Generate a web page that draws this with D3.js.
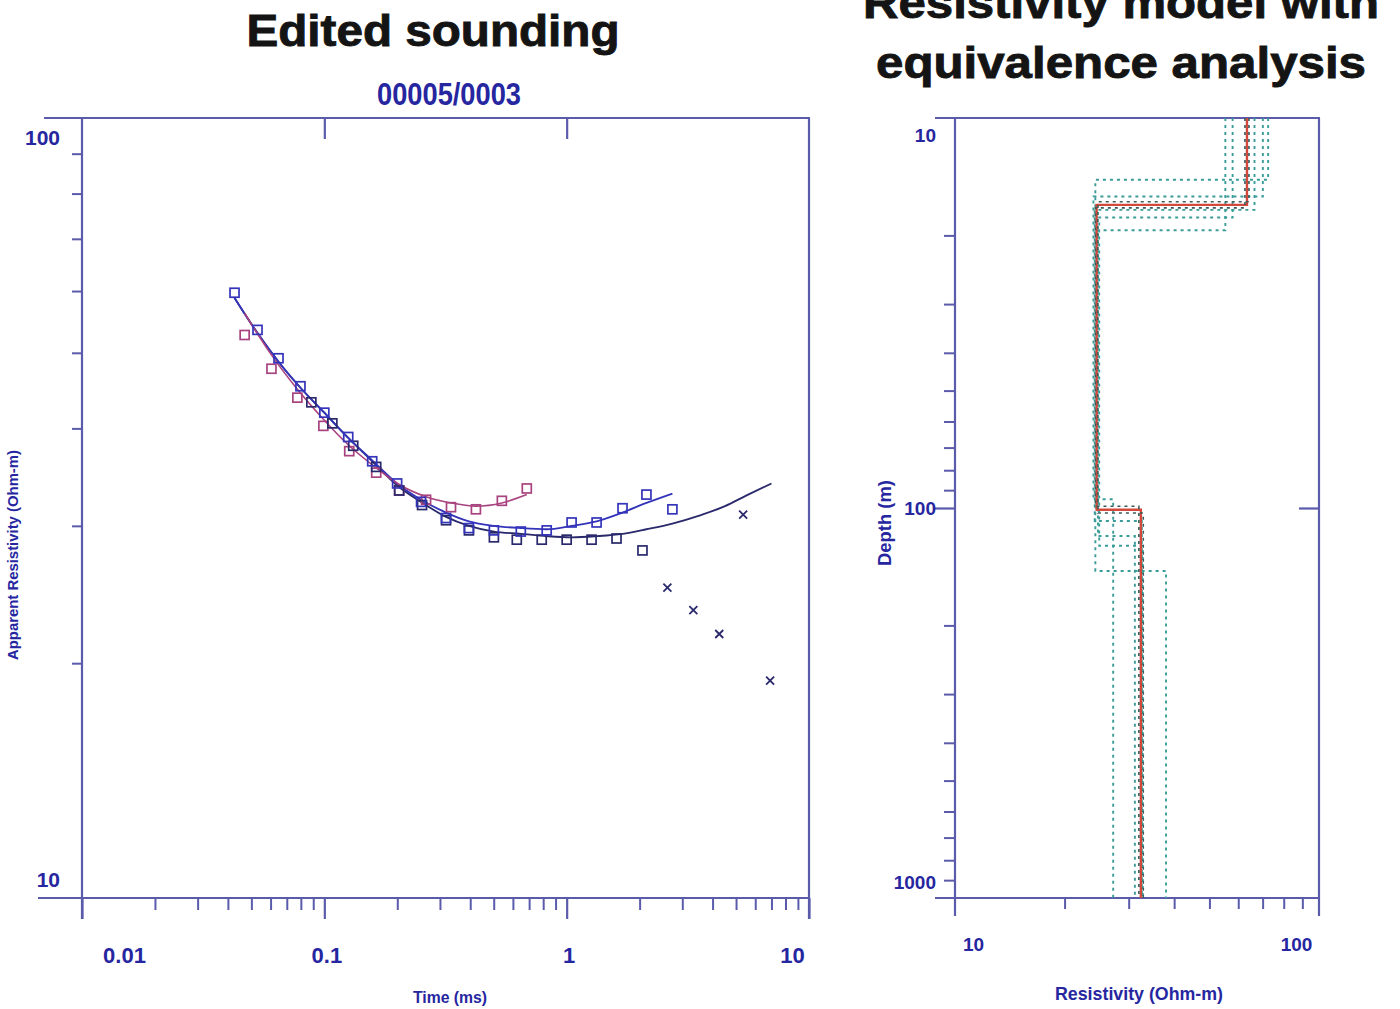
<!DOCTYPE html>
<html>
<head>
<meta charset="utf-8">
<script src="https://cdn.jsdelivr.net/npm/d3@7"></script>
<style>
  html, body { margin: 0; padding: 0; background: #ffffff; }
  svg { display: block; }
  .title { font-family: "Liberation Sans", Arial, sans-serif; font-weight: bold; fill: #141414; stroke: #141414; stroke-width: 0.9px; }
  .lbl { font-family: "Liberation Sans Narrow", "Liberation Sans", Arial, sans-serif; font-weight: bold; fill: #2626a0; }
</style>
</head>
<body>
<svg id="chart" width="1400" height="1009"></svg>
<script>
// ---- Edited sounding: apparent resistivity vs time ----
const magentaTime = [0.0469, 0.0605, 0.0774, 0.0991, 0.1267, 0.1637, 0.2036, 0.2629, 0.3332, 0.4222, 0.5402, 0.6846];
const magentaRho  = [52.7, 47.7, 43.8, 40.3, 37.4, 35.1, 33.3, 32.4, 31.7, 31.5, 32.3, 33.5];
const magentaFitRho = [56.2, 49.7, 44.9, 41.1, 38.0, 35.6, 33.9, 32.7, 32.1, 31.8, 32.1, 32.9];

const blueTime = [0.0426, 0.0530, 0.0647, 0.0797, 0.1, 0.1255, 0.1576, 0.1997, 0.2507, 0.3178, 0.3951, 0.5008, 0.6467, 0.8272, 1.048, 1.329, 1.700, 2.134, 2.731];
const blueRho  = [59.7, 53.5, 49.2, 45.3, 41.9, 39.0, 36.3, 34.0, 32.2, 30.7, 29.8, 29.6, 29.5, 29.6, 30.3, 30.3, 31.6, 32.9, 31.5];
const blueFitRho = [58.8, 53.0, 48.7, 45.1, 41.9, 38.9, 36.4, 34.0, 32.4, 31.2, 30.4, 30.0, 29.8, 29.7, 30.0, 30.4, 31.2, 32.1, 33.0];

const navyTime = [0.0884, 0.1079, 0.1316, 0.1637, 0.2036, 0.2531, 0.3178, 0.3951, 0.5008, 0.6226, 0.789, 1.0, 1.267, 1.606, 2.055];
const navyRho  = [43.2, 40.6, 38.0, 35.7, 33.3, 31.9, 30.5, 29.6, 29.0, 28.8, 28.8, 28.8, 28.8, 28.9, 27.9];
const rejectedTime = [2.604, 3.332, 4.262, 5.35, 6.91];
const rejectedRho  = [25.0, 23.4, 21.8, 31.0, 19.0];
const navyFitTime = [0.0426, 0.0530, 0.0647, 0.0797, 0.1, 0.1255, 0.1576, 0.1997, 0.2507, 0.3178, 0.3951, 0.5008, 0.6467, 0.8272, 1.048, 1.329, 1.700, 2.134, 2.731, 3.5, 4.5, 5.5, 7.0];
const navyFitRho  = [58.8, 53.0, 48.7, 45.1, 41.9, 38.9, 36.3, 33.8, 32.2, 30.8, 30.0, 29.5, 29.3, 29.1, 29.0, 29.1, 29.3, 29.7, 30.2, 30.9, 31.8, 32.8, 34.0];

const timeMajor = [0.01, 0.1, 1, 10];
const timeLabels = ["0.01", "0.1", "1", "10"];
const rhoMajor = [10, 100];
const rhoLabels = ["10", "100"];

// ---- Resistivity model with equivalence analysis ----
// each model: three layer resistivities and two interface depths
const bestRho = [63.4, 24.5, 32.4];
const bestDepth = [16.7, 101];
const equivRho = [
  [72.5, 24.3, 38.0],
  [70.1, 24.0, 27.2],
  [55.3, 24.7, 31.2],
  [57.9, 24.9, 32.8],
  [66.5, 24.2, 32.6]
];
const equivDepth = [
  [14.4, 145],
  [15.9, 95],
  [19.4, 118],
  [18.0, 125],
  [17.2, 108]
];
const nearRho = [
  [64.2, 24.7, 32.9],
  [62.6, 24.3, 32.0]
];
const nearDepth = [
  [16.4, 103],
  [17.0, 99]
];
const resMajor = [10, 100];
const resLabels = ["10", "100"];
const depthMajor = [10, 100, 1000];
const depthLabels = ["10", "100", "1000"];

const AXIS = "#5b5bab";
const MAGENTA = "#a8437f";
const BLUE = "#3434bb";
const NAVY = "#29296c";
const RED = "#d2483a";
const TEAL = "#3a9c98";
const TEAL_DARK = "#3a5a5a";

const svg = d3.select("#chart");

function logMinors(lo, hi) {
  const out = [];
  for (let p = lo; p < hi; p *= 10) for (let k = 2; k <= 9; k++) out.push(p * k);
  return out;
}

// ================= left panel =================
const xL = d3.scaleLog().domain([0.01, 10]).range([82, 809]);
const yL = d3.scaleLog().domain([10, 100]).range([898, 118]);

const gL = svg.append("g");

// frame lines
const frame = (g, x1, y1, x2, y2) => g.append("line")
  .attr("x1", x1).attr("y1", y1).attr("x2", x2).attr("y2", y2)
  .attr("stroke", AXIS).attr("stroke-width", 2.2);
frame(gL, 44, yL(100), xL(10) + 1, yL(100));
frame(gL, 38, yL(10), xL(10) + 1, yL(10));
frame(gL, xL(0.01), yL(100), xL(0.01), yL(10) + 21);
frame(gL, xL(10), yL(100), xL(10), yL(10) + 21);

function styleAxis(g, w) {
  g.select(".domain").remove();
  g.selectAll(".tick line").attr("stroke", AXIS).attr("stroke-width", w);
}

// bottom minor ticks
gL.append("g").attr("transform", `translate(0,${yL(10)})`)
  .call(d3.axisBottom(xL).tickValues(logMinors(0.01, 10)).tickSize(12).tickFormat(""))
  .call(g => styleAxis(g, 2));
// bottom major ticks + labels
const bx = gL.append("g").attr("transform", `translate(0,${yL(10)})`)
  .call(d3.axisBottom(xL).tickValues(timeMajor).tickSize(21).tickPadding(28)
    .tickFormat((d, i) => timeLabels[i]))
  .call(g => styleAxis(g, 2.2));
bx.selectAll(".tick text").attr("class", "lbl").attr("font-size", 22)
  .attr("dx", (d, i) => i === 0 ? 42 : (i === timeMajor.length - 1 ? -17 : 2));
// top inward major ticks
gL.append("g").attr("transform", `translate(0,${yL(100)})`)
  .call(d3.axisBottom(xL).tickValues([0.1, 1]).tickSize(21).tickFormat(""))
  .call(g => styleAxis(g, 2.2));
// left minor ticks
gL.append("g").attr("transform", `translate(${xL(0.01)},0)`)
  .call(d3.axisLeft(yL).tickValues(logMinors(10, 100)).tickSize(10).tickFormat(""))
  .call(g => styleAxis(g, 2));
// left labels (end labels nudged inside the frame)
const ly = gL.append("g").attr("transform", `translate(${xL(0.01)},0)`)
  .call(d3.axisLeft(yL).tickValues(rhoMajor).tickSize(0).tickPadding(22)
    .tickFormat((d, i) => rhoLabels[i]))
  .call(g => g.select(".domain").remove());
ly.selectAll(".tick text").attr("class", "lbl").attr("font-size", 21)
  .attr("dy", d => d === 100 ? "1.25em" : "-0.55em");

// fitted curves
const lineL = d3.line().x(d => xL(d[0])).y(d => yL(d[1])).curve(d3.curveMonotoneX);
gL.append("path").datum(navyFitTime.map((t, i) => [t, navyFitRho[i]]))
  .attr("d", lineL).attr("fill", "none").attr("stroke", NAVY).attr("stroke-width", 1.8);
gL.append("path").datum(blueTime.map((t, i) => [t, blueFitRho[i]]))
  .attr("d", lineL).attr("fill", "none").attr("stroke", BLUE).attr("stroke-width", 1.8);
gL.append("path").datum(magentaTime.map((t, i) => [t, magentaFitRho[i]]))
  .attr("d", lineL).attr("fill", "none").attr("stroke", MAGENTA).attr("stroke-width", 1.6);

// measured points
function squares(times, rhos, color) {
  gL.append("g").selectAll("rect").data(times.map((t, i) => [t, rhos[i]])).join("rect")
    .attr("x", d => xL(d[0]) - 4.5).attr("y", d => yL(d[1]) - 4.5)
    .attr("width", 9).attr("height", 9)
    .attr("fill", "none").attr("stroke", color).attr("stroke-width", 1.7);
}
squares(magentaTime, magentaRho, MAGENTA);
squares(navyTime, navyRho, NAVY);
squares(blueTime, blueRho, BLUE);

gL.append("g").selectAll("path").data(rejectedTime.map((t, i) => [t, rejectedRho[i]])).join("path")
  .attr("d", d => { const x = xL(d[0]), y = yL(d[1]), s = 4;
    return `M${x - s},${y - s}L${x + s},${y + s}M${x - s},${y + s}L${x + s},${y - s}`; })
  .attr("stroke", NAVY).attr("stroke-width", 1.8);

// titles
svg.append("text").attr("class", "title").attr("x", 433).attr("y", 46)
  .attr("text-anchor", "middle").attr("font-size", 45)
  .attr("textLength", 373).attr("lengthAdjust", "spacingAndGlyphs").text("Edited sounding");
svg.append("text").attr("class", "lbl").attr("x", 449).attr("y", 105)
  .attr("text-anchor", "middle").attr("font-size", 31).attr("fill", "#2020c0")
  .attr("textLength", 144).attr("lengthAdjust", "spacingAndGlyphs").text("00005/0003");
svg.append("text").attr("class", "lbl").attr("x", 450).attr("y", 1003)
  .attr("text-anchor", "middle").attr("font-size", 16)
  .attr("textLength", 74).attr("lengthAdjust", "spacingAndGlyphs").text("Time (ms)");
svg.append("text").attr("class", "lbl")
  .attr("transform", "translate(18,555) rotate(-90)")
  .attr("text-anchor", "middle").attr("font-size", 15)
  .attr("textLength", 210).attr("lengthAdjust", "spacingAndGlyphs").text("Apparent Resistivity (Ohm-m)");

// ================= right panel =================
const xR = d3.scaleLog().domain([10, 100]).range([955, 1319]);
const yR = d3.scaleLog().domain([10, 1000]).range([118, 898]);
const gR = svg.append("g");

frame(gR, 935, yR(10), xR(100) + 1, yR(10));
frame(gR, 935, yR(1000), xR(100) + 1, yR(1000));
frame(gR, xR(10), yR(10), xR(10), yR(1000) + 18);
frame(gR, xR(100), yR(10), xR(100), yR(1000) + 18);

gR.append("g").attr("transform", `translate(0,${yR(1000)})`)
  .call(d3.axisBottom(xR).tickValues(logMinors(10, 100)).tickSize(11).tickFormat(""))
  .call(g => styleAxis(g, 2));
const rbx = gR.append("g").attr("transform", `translate(0,${yR(1000)})`)
  .call(d3.axisBottom(xR).tickValues(resMajor).tickSize(0).tickPadding(40)
    .tickFormat((d, i) => resLabels[i]))
  .call(g => g.select(".domain").remove());
rbx.selectAll(".tick text").attr("class", "lbl").attr("font-size", 19)
  .attr("dx", (d, i) => i === 0 ? 18 : -23);

gR.append("g").attr("transform", `translate(${xR(10)},0)`)
  .call(d3.axisLeft(yR).tickValues(logMinors(10, 1000)).tickSize(11).tickFormat(""))
  .call(g => styleAxis(g, 2));
gR.append("g").attr("transform", `translate(${xR(10)},0)`)
  .call(d3.axisLeft(yR).tickValues([100]).tickSize(20).tickFormat(""))
  .call(g => styleAxis(g, 2.2));
gR.append("g").attr("transform", `translate(${xR(100)},0)`)
  .call(d3.axisRight(yR).tickValues([100]).tickSize(-20).tickFormat(""))
  .call(g => styleAxis(g, 2.2));
const rly = gR.append("g").attr("transform", `translate(${xR(10)},0)`)
  .call(d3.axisLeft(yR).tickValues(depthMajor).tickSize(0).tickPadding(19)
    .tickFormat((d, i) => depthLabels[i]))
  .call(g => g.select(".domain").remove());
rly.selectAll(".tick text").attr("class", "lbl").attr("font-size", 19)
  .attr("dy", d => d === 10 ? "1.25em" : (d === 1000 ? "-0.5em" : "0.35em"));

function modelPoints(rho, depth) {
  return [[rho[0], 10], [rho[0], depth[0]], [rho[1], depth[0]], [rho[1], depth[1]], [rho[2], depth[1]], [rho[2], 1000]];
}
const lineR = d3.line().x(d => xR(d[0])).y(d => yR(d[1]));

equivRho.forEach((r, i) => {
  gR.append("path").datum(modelPoints(r, equivDepth[i])).attr("d", lineR)
    .attr("fill", "none").attr("stroke", TEAL).attr("stroke-width", 1.9)
    .attr("stroke-dasharray", "3,4");
});
gR.append("path").datum(modelPoints(bestRho, bestDepth)).attr("d", lineR)
  .attr("fill", "none").attr("stroke", RED).attr("stroke-width", 2.4);
nearRho.forEach((r, i) => {
  gR.append("path").datum(modelPoints(r, nearDepth[i])).attr("d", lineR)
    .attr("fill", "none").attr("stroke", TEAL_DARK).attr("stroke-width", 1.6)
    .attr("stroke-dasharray", "3,4");
});

svg.append("text").attr("class", "title").attr("x", 1121).attr("y", 18)
  .attr("text-anchor", "middle").attr("font-size", 45)
  .attr("textLength", 516).attr("lengthAdjust", "spacingAndGlyphs").text("Resistivity model with");
svg.append("text").attr("class", "title").attr("x", 1121).attr("y", 78)
  .attr("text-anchor", "middle").attr("font-size", 45)
  .attr("textLength", 490).attr("lengthAdjust", "spacingAndGlyphs").text("equivalence analysis");
svg.append("text").attr("class", "lbl").attr("x", 1139).attr("y", 1000)
  .attr("text-anchor", "middle").attr("font-size", 19)
  .attr("textLength", 168).attr("lengthAdjust", "spacingAndGlyphs").text("Resistivity (Ohm-m)");
svg.append("text").attr("class", "lbl")
  .attr("transform", "translate(891,523) rotate(-90)")
  .attr("text-anchor", "middle").attr("font-size", 18)
  .attr("textLength", 86).attr("lengthAdjust", "spacingAndGlyphs").text("Depth (m)");
</script>
</body>
</html>
